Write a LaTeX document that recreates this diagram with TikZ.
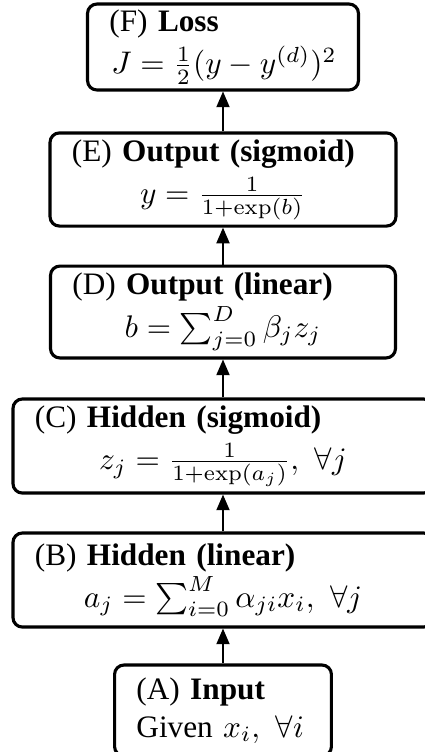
\documentclass[tikz,border=0pt]{standalone}
\usepackage[no-math]{fontspec}
\setmainfont{Liberation Serif}
\usepackage{amsmath,amssymb}
\usetikzlibrary{arrows.meta}
\tikzset{
  layer/.style={draw, line width=1pt, rounded corners=3pt, inner xsep=7pt, inner ysep=0pt, align=left},
  up/.style={-{Triangle[length=5pt,width=4.2pt]}, line width=0.45pt}
}
\newcommand{\eqline}[1]{\par\vspace{1.5pt}\centerline{#1}}

\begin{document}
\begin{tikzpicture}[x=0.32pt, y=-0.32pt]
\useasboundingbox (0,0) rectangle (424,752);
\node[layer, text width=72.7pt, minimum height=27.5pt] (F) at (223,47)
  {(F) \textbf{Loss}\par\vspace{1.5pt}\hspace{0.6pt}$J=\frac{1}{2}(y-y^{(d)})^2$};
\node[layer, text width=96.7pt, minimum height=29.8pt] (E) at (223,179.5)
  {(E) \textbf{Output (sigmoid)}\eqline{$y=\frac{1}{1+\exp(b)}$}};
\node[layer, text width=96.4pt, minimum height=29.4pt] (D) at (223,312)
  {(D) \textbf{Output (linear)}\eqline{$b=\sum_{j=0}^{D}\beta_j z_j$}};
\node[layer, text width=120.4pt, minimum height=30.1pt] (C) at (223,446)
  {(C) \textbf{Hidden (sigmoid)}\eqline{$z_j=\frac{1}{1+\exp(a_j)},\ \forall j$}};
\node[layer, text width=120.4pt, minimum height=30.1pt] (B) at (223,580)
  {(B) \textbf{Hidden (linear)}\eqline{$a_j=\sum_{i=0}^{M}\alpha_{ji}x_i,\ \forall j$}};
\node[layer, text width=55.4pt, minimum height=29.1pt] (A) at (223,710.5)
  {(A) \textbf{Input}\\ Given $x_i,\ \forall i$};
\draw[up] (A) -- (B);
\draw[up] (B) -- (C);
\draw[up] (C) -- (D);
\draw[up] (D) -- (E);
\draw[up] (E) -- (F);
\end{tikzpicture}
\end{document}
